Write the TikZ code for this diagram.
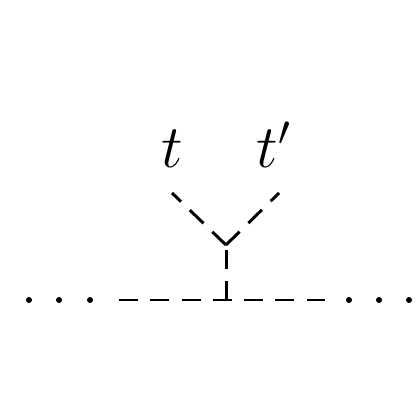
\documentclass[tikz,border=0pt]{standalone}
\usepackage{amsmath,amssymb}
\tikzset{scalar/.style={line width=0.85pt,dash pattern=on 5.4pt off 3.5pt}}

\begin{document}
\begin{tikzpicture}[scalar]
\useasboundingbox (-2.26,-1.20) rectangle (1.94,3.00);
\coordinate (v) at (0,0);
\coordinate (w) at (0,0.55);
\coordinate (l) at (-1.07,0);
\coordinate (r) at (0.99,0);
\coordinate (a) at (-0.54,1.07);
\coordinate (b) at (0.53,1.07);
\draw (l)--(r);
\draw (v)--(w);
\draw (w)--(a);
\draw (w)--(b);
\node[anchor=base] (t) at (-0.54,1.32) {\LARGE $t$};
\node[anchor=base] (tp) at (0.48,1.32) {\LARGE $t'$};
\foreach \x in {-1.97,-1.67,-1.36,1.23,1.53,1.83}
  \fill[solid] (\x,0) circle (0.03);
\end{tikzpicture}
\end{document}
